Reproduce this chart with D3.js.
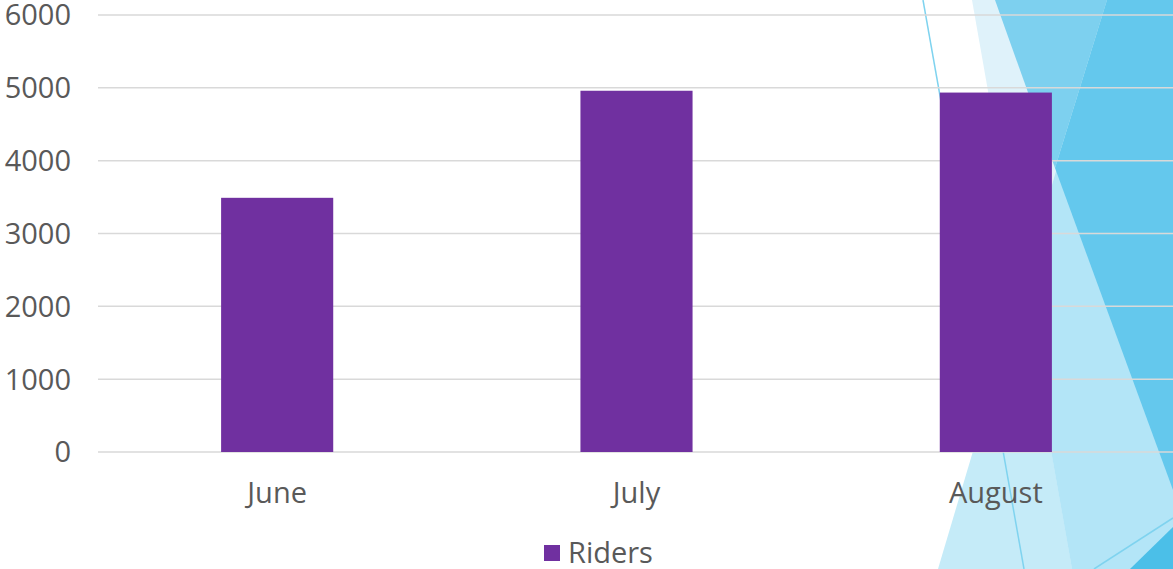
<!DOCTYPE html>
<html lang="en">

<head>
    <meta charset="UTF-8">
    <title>Riders by Month</title>
    <script src="https://d3js.org/d3.v7.min.js"></script>
    <style>
        body,
        html {
            margin: 0;
            padding: 0;
            background: #fff;
            overflow: hidden;
        }

        .tick-label,
        .legend-label {
            fill: #595959;
            font-family: "Open Sans", sans-serif;
            font-size: 29px;
        }
    </style>
</head>

<body>
    <svg width="1173" height="569" id="chart"></svg>

    <script>
        // Chart data
        const months = ["June", "July", "August"];
        const riders = [3490, 4960, 4935];
        const yTicks = [0, 1000, 2000, 3000, 4000, 5000, 6000];
        const seriesName = "Riders";

        const width = 1173;
        const height = 569;
        const margin = { top: 15, right: -2, bottom: 117, left: 98 };

        const svg = d3.select("#chart");

        // Theme decoration on the right side (slide background facets)
        const deco = svg.append("g").attr("class", "deco");
        const facets = [
            { pts: [[1107, 0], [1173, 0], [1173, 569], [938, 569]], fill: "#c5ebf8" },
            { pts: [[972, 0], [1173, 0], [1173, 569], [1072, 569]], fill: "#dff2fa" },
            // overlap of the two facets above
            { pts: [[1107, 0], [1173, 0], [1173, 569], [1072, 569], [1022, 286]], fill: "#b3e5f7" },
            { pts: [[995, 0], [1107, 0], [1055, 168]], fill: "#7dd0ef" },
            { pts: [[1107, 0], [1173, 0], [1173, 490], [1055, 168]], fill: "#64c8ed" },
            { pts: [[1130, 569], [1173, 527], [1173, 569]], fill: "#4bbfe8" }
        ];
        deco.selectAll("polygon")
            .data(facets)
            .enter()
            .append("polygon")
            .attr("points", d => d.pts.map(p => p.join(",")).join(" "))
            .attr("fill", d => d.fill);

        const thinLines = [
            [[923, 0], [1024, 569]],
            [[1094, 569], [1173, 518]]
        ];
        deco.selectAll("line")
            .data(thinLines)
            .enter()
            .append("line")
            .attr("x1", d => d[0][0]).attr("y1", d => d[0][1])
            .attr("x2", d => d[1][0]).attr("y2", d => d[1][1])
            .attr("stroke", "#7fd3ef")
            .attr("stroke-width", 1.5);

        // Scales
        const x = d3.scaleBand()
            .domain(months)
            .range([margin.left - 0.5, width - margin.right + 0.5])
            .paddingInner(0.688)
            .paddingOuter(0.344);

        const y = d3.scaleLinear()
            .domain([0, 6000])
            .range([height - margin.bottom, margin.top]);

        // Gridlines
        svg.append("g")
            .selectAll("line")
            .data(yTicks)
            .enter()
            .append("line")
            .attr("x1", margin.left)
            .attr("x2", width)
            .attr("y1", d => y(d))
            .attr("y2", d => y(d))
            .attr("stroke", "#d9d9d9")
            .attr("stroke-width", 1.5);

        // Bars
        svg.append("g")
            .selectAll("rect")
            .data(riders)
            .enter()
            .append("rect")
            .attr("x", (d, i) => x(months[i]))
            .attr("y", d => y(d))
            .attr("width", x.bandwidth())
            .attr("height", d => y(0) - y(d))
            .attr("fill", "#7030a0");

        // Y axis labels
        svg.append("g")
            .selectAll("text")
            .data(yTicks)
            .enter()
            .append("text")
            .attr("class", "tick-label")
            .attr("x", 71)
            .attr("y", d => y(d))
            .attr("dy", "0.36em")
            .attr("text-anchor", "end")
            .text(d => d);

        // X axis labels
        svg.append("g")
            .selectAll("text")
            .data(months)
            .enter()
            .append("text")
            .attr("class", "tick-label")
            .attr("x", d => x(d) + x.bandwidth() / 2)
            .attr("y", 503)
            .attr("text-anchor", "middle")
            .text(d => d);

        // Legend
        const legend = svg.append("g").attr("transform", "translate(544,545)");
        legend.append("rect")
            .attr("width", 16)
            .attr("height", 16)
            .attr("fill", "#7030a0");
        legend.append("text")
            .attr("class", "legend-label")
            .attr("x", 24)
            .attr("y", 18)
            .text(seriesName);
    </script>
</body>

</html>
